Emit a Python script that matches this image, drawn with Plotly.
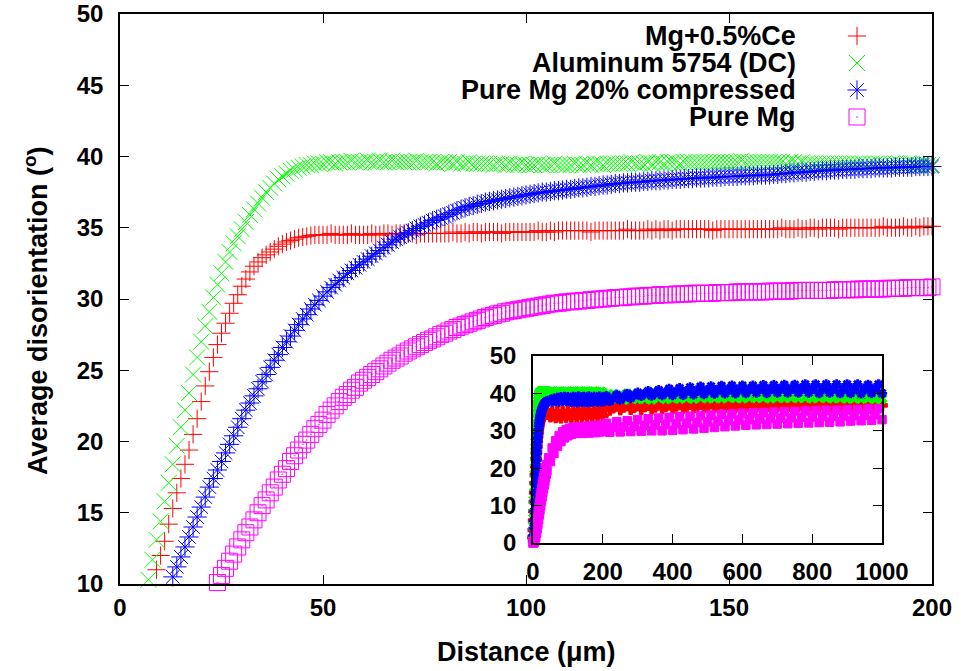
import plotly.graph_objects as go

FONT = "Liberation Sans, Arial, Helvetica, sans-serif"
RED, GREEN, BLUE, MAGENTA = "#ff0000", "#00ff00", "#0000ff", "#ff00ff"

SERIES_NAMES = ["Mg+0.5%Ce", "Aluminum 5754 (DC)", "Pure Mg 20% compressed", "Pure Mg"]

# ---------------- main panel: average disorientation vs distance (1 um steps) ----------------
CE_START_UM = 9
CE_DEG = [
    11.0, 12.0,
    13.0, 14.2, 15.3, 16.4, 17.4, 18.4, 19.4, 20.5, 21.6, 22.8,
    23.9, 24.9, 25.9, 26.8, 27.6, 28.3, 29.0, 29.7, 30.3, 30.9,
    31.4, 31.9, 32.3, 32.6, 32.9, 33.1, 33.3, 33.5, 33.7, 33.85,
    34.0, 34.1, 34.2, 34.3, 34.35, 34.4, 34.45, 34.5, 34.5, 34.5,
    34.5, 34.6, 34.5, 34.5, 34.5, 34.5, 34.6, 34.5, 34.5, 34.5,
    34.5, 34.6, 34.5, 34.5, 34.6, 34.6, 34.5, 34.6, 34.6, 34.6,
    34.6, 34.6, 34.5, 34.6, 34.6, 34.6, 34.6, 34.6, 34.6, 34.6,
    34.6, 34.7, 34.6, 34.6, 34.7, 34.6, 34.7, 34.7, 34.6, 34.7,
    34.7, 34.7, 34.7, 34.6, 34.7, 34.7, 34.7, 34.7, 34.7, 34.7,
    34.7, 34.7, 34.8, 34.7, 34.7, 34.8, 34.7, 34.8, 34.8, 34.8,
    34.8, 34.8, 34.8, 34.8, 34.8, 34.7, 34.8, 34.8, 34.8, 34.8,
    34.8, 34.8, 34.8, 34.8, 34.9, 34.8, 34.8, 34.8, 34.8, 34.9,
    34.8, 34.9, 34.8, 34.9, 34.9, 34.8, 34.9, 34.9, 34.9, 34.9,
    34.9, 34.9, 34.9, 34.9, 34.9, 34.8, 34.9, 34.9, 34.9, 34.9,
    34.9, 34.9, 34.9, 34.9, 34.9, 34.9, 34.9, 34.9, 34.9, 34.9,
    34.9, 34.9, 35.0, 34.9, 34.9, 34.9, 35.0, 34.9, 34.9, 35.0,
    35.0, 34.9, 35.0, 35.0, 35.0, 35.0, 34.9, 35.0, 35.0, 35.0,
    35.0, 35.0, 35.0, 35.0, 35.0, 35.0, 35.0, 35.1, 35.0, 35.0,
    35.0, 35.0, 35.1, 35.0, 35.0, 35.1, 35.0, 35.1, 35.1, 35.1,
]

AL_START_UM = 7
AL_DEG = [
    10.3, 11.7, 13.1, 14.4,
    15.8, 17.1, 18.4, 19.7, 21.0, 22.2, 23.4, 24.7, 25.9, 27.0,
    28.1, 29.1, 30.1, 31.0, 31.8, 32.6, 33.3, 33.9, 34.4, 34.9,
    35.4, 35.9, 36.3, 36.7, 37.1, 37.5, 37.8, 38.1, 38.4, 38.6,
    38.8, 39.0, 39.1, 39.2, 39.3, 39.4, 39.4, 39.5, 39.5, 39.5,
    39.6, 39.6, 39.5, 39.6, 39.6, 39.6, 39.7, 39.6, 39.6, 39.6,
    39.7, 39.6, 39.6, 39.7, 39.6, 39.6, 39.7, 39.6, 39.6, 39.6,
    39.6, 39.6, 39.7, 39.6, 39.6, 39.6, 39.6, 39.5, 39.6, 39.6,
    39.6, 39.5, 39.6, 39.5, 39.5, 39.6, 39.5, 39.5, 39.5, 39.5,
    39.5, 39.4, 39.5, 39.5, 39.4, 39.5, 39.4, 39.4, 39.5, 39.4,
    39.4, 39.4, 39.5, 39.4, 39.4, 39.4, 39.5, 39.4, 39.4, 39.4,
    39.4, 39.5, 39.4, 39.4, 39.5, 39.4, 39.5, 39.5, 39.4, 39.5,
    39.5, 39.5, 39.5, 39.5, 39.5, 39.6, 39.5, 39.5, 39.5, 39.6,
    39.5, 39.6, 39.6, 39.5, 39.6, 39.6, 39.6, 39.5, 39.6, 39.6,
    39.6, 39.6, 39.6, 39.6, 39.6, 39.6, 39.6, 39.6, 39.6, 39.6,
    39.6, 39.6, 39.7, 39.6, 39.6, 39.6, 39.6, 39.6, 39.6, 39.6,
    39.6, 39.6, 39.6, 39.5, 39.6, 39.6, 39.5, 39.6, 39.5, 39.5,
    39.5, 39.5, 39.5, 39.5, 39.5, 39.5, 39.5, 39.5, 39.5, 39.5,
    39.5, 39.5, 39.5, 39.4, 39.5, 39.5, 39.5, 39.5, 39.4, 39.5,
    39.5, 39.5, 39.4, 39.5, 39.5, 39.4, 39.4, 39.5, 39.4, 39.4,
]

MG20_START_UM = 13
MG20_DEG = [
    10.5, 11.2, 11.9, 12.6, 13.3, 14.0, 14.7, 15.4,
    16.1, 16.8, 17.4, 18.0, 18.6, 19.2, 19.8, 20.4, 21.0, 21.6,
    22.2, 22.7, 23.2, 23.7, 24.2, 24.7, 25.2, 25.7, 26.1, 26.6,
    27.0, 27.4, 27.8, 28.2, 28.6, 28.9, 29.3, 29.6, 29.9, 30.2,
    30.5, 30.8, 31.0, 31.3, 31.5, 31.8, 32.0, 32.2, 32.4, 32.6,
    32.8, 33.0, 33.2, 33.4, 33.6, 33.8, 34.0, 34.2, 34.35, 34.5,
    34.65, 34.8, 34.95, 35.1, 35.2, 35.35, 35.5, 35.6, 35.7, 35.8,
    35.95, 36.05, 36.2, 36.3, 36.4, 36.5, 36.55, 36.65, 36.7, 36.8,
    36.85, 36.9, 36.95, 37.0, 37.05, 37.1, 37.15, 37.2, 37.25, 37.3,
    37.35, 37.4, 37.45, 37.5, 37.5, 37.55, 37.6, 37.6, 37.65, 37.7,
    37.7, 37.75, 37.8, 37.8, 37.85, 37.9, 37.9, 37.95, 38.0, 38.0,
    38.05, 38.1, 38.1, 38.15, 38.15, 38.2, 38.2, 38.2, 38.25, 38.25,
    38.3, 38.3, 38.3, 38.35, 38.35, 38.4, 38.4, 38.4, 38.45, 38.45,
    38.45, 38.5, 38.5, 38.5, 38.5, 38.55, 38.55, 38.55, 38.6, 38.6,
    38.6, 38.6, 38.65, 38.65, 38.65, 38.65, 38.7, 38.7, 38.7, 38.7,
    38.75, 38.75, 38.8, 38.8, 38.85, 38.85, 38.9, 38.9, 38.9, 38.95,
    38.95, 39.0, 39.0, 39.0, 39.05, 39.05, 39.05, 39.1, 39.1, 39.1,
    39.1, 39.15, 39.15, 39.15, 39.15, 39.2, 39.2, 39.2, 39.2, 39.2,
    39.25, 39.25, 39.25, 39.25, 39.25, 39.3, 39.3, 39.3, 39.3, 39.3,
]

MG_START_UM = 24
MG_DEG = [
    10.1, 10.6, 11.1, 11.6, 12.1, 12.6, 13.1,
    13.6, 14.0, 14.5, 15.0, 15.5, 15.9, 16.4, 16.8, 17.3, 17.7,
    18.1, 18.6, 19.0, 19.4, 19.8, 20.1, 20.5, 20.9, 21.2, 21.5,
    21.9, 22.2, 22.5, 22.8, 23.1, 23.3, 23.6, 23.8, 24.1, 24.3,
    24.5, 24.7, 24.9, 25.1, 25.3, 25.5, 25.7, 25.85, 26.0, 26.2,
    26.35, 26.5, 26.65, 26.8, 26.95, 27.1, 27.2, 27.35, 27.5, 27.6,
    27.75, 27.85, 28.0, 28.1, 28.2, 28.3, 28.4, 28.5, 28.6, 28.7,
    28.8, 28.85, 28.95, 29.0, 29.1, 29.15, 29.2, 29.25, 29.3, 29.35,
    29.4, 29.45, 29.5, 29.55, 29.6, 29.65, 29.7, 29.7, 29.75, 29.8,
    29.8, 29.85, 29.85, 29.9, 29.9, 29.95, 29.95, 30.0, 30.0, 30.05,
    30.05, 30.1, 30.1, 30.1, 30.15, 30.15, 30.2, 30.2, 30.2, 30.25,
    30.25, 30.25, 30.3, 30.3, 30.3, 30.3, 30.35, 30.35, 30.35, 30.35,
    30.4, 30.4, 30.4, 30.4, 30.4, 30.4, 30.45, 30.45, 30.45, 30.45,
    30.45, 30.5, 30.5, 30.5, 30.5, 30.5, 30.5, 30.5, 30.5, 30.55,
    30.55, 30.55, 30.55, 30.55, 30.55, 30.6, 30.6, 30.6, 30.6, 30.6,
    30.6, 30.6, 30.6, 30.6, 30.6, 30.65, 30.65, 30.65, 30.65, 30.65,
    30.65, 30.7, 30.7, 30.7, 30.7, 30.7, 30.7, 30.7, 30.75, 30.75,
    30.75, 30.75, 30.75, 30.8, 30.8, 30.8, 30.8, 30.8, 30.8, 30.85,
]

MAIN_X_RANGE = [0, 200]
MAIN_Y_RANGE = [10, 50]
MAIN_X_TICKS = [0, 50, 100, 150, 200]
MAIN_Y_TICKS = [10, 15, 20, 25, 30, 35, 40, 45, 50]

# ---------------- inset: full 0-1000 um profile ----------------
INSET_DIST_UM = list(range(0, 41)) + list(range(45, 201, 5)) + list(range(210, 1001, 10))

INSET_CE_DEG = (
    [1.5, 3.5, 6.0, 8.5, 11.0, 13.5, 16.0, 18.3, 20.5, 22.5, 24.3,
     25.9, 27.3, 28.5, 29.5, 30.4, 31.1, 31.7, 32.2, 32.6, 33.0,
     33.3, 33.5, 33.7, 33.9, 34.0, 34.1, 34.2, 34.3, 34.3, 34.4,
     34.4, 34.5, 34.5, 34.5, 34.6, 34.6, 34.6, 34.7, 34.7, 34.7]
    + [34.5, 33.8, 35.0, 34.2, 33.6, 35.2, 34.0, 33.5,
       35.1, 34.3, 33.7, 35.3, 34.4, 33.6, 35.3, 34.5,
       33.8, 35.4, 34.6, 33.7, 35.4, 34.5, 33.8, 35.5,
       34.6, 33.9, 35.5, 34.7, 33.9, 35.6, 34.8, 34.0]
    + [36.8, 35.6, 36.2, 37.0, 35.7, 36.4, 37.1, 35.8, 36.3, 37.2,
       35.8, 36.5, 37.2, 35.9, 36.4, 37.3, 36.0, 36.6, 37.3, 36.0,
       36.7, 37.4, 36.1, 36.6, 37.4, 36.2, 36.8, 37.5, 36.2, 36.7,
       37.5, 36.3, 36.9, 37.5, 36.3, 36.8, 37.6, 36.4, 37.0, 37.6,
       36.4, 36.9, 37.6, 36.5, 37.0, 37.6, 36.5, 37.1, 37.7, 36.5,
       37.0, 37.7, 36.6, 37.1, 37.7, 36.6, 37.1, 37.7, 36.6, 37.2,
       37.7, 36.6, 37.1, 37.8, 36.6, 37.2, 37.8, 36.7, 37.2, 37.8,
       36.7, 37.2, 37.8, 36.7, 37.3, 37.8, 36.8, 37.3, 37.9, 36.8]
)

INSET_AL_DEG = (
    [1.0, 4.5, 8.0, 11.5, 15.0, 18.5, 21.5, 24.5, 27.0, 29.5, 31.5,
     33.3, 34.8, 36.0, 37.1, 38.0, 38.7, 39.3, 39.7, 40.0, 40.2,
     40.3, 40.5, 40.3, 40.6, 40.4, 40.2, 40.6, 40.4, 40.5, 40.3,
     40.6, 40.4, 40.2, 40.5, 40.4, 40.6, 40.3, 40.5, 40.4, 40.2]
    + [40.4, 39.8, 40.5, 40.0, 40.3, 39.7, 40.5, 40.1,
       40.4, 39.8, 40.5, 40.0, 40.3, 39.7, 40.5, 40.1,
       40.4, 39.8, 40.5, 40.0, 40.3, 39.8, 40.5, 40.1,
       40.4, 39.8, 40.5, 40.0, 40.3, 39.8, 40.4, 40.1]
    + [39.2, 38.4, 39.8, 38.6, 39.5, 38.3, 39.9, 38.7, 39.3, 38.5,
       39.7, 38.6, 39.4, 38.4, 40.0, 38.8, 39.2, 38.5, 39.6, 38.7,
       39.9, 38.6, 39.3, 38.8, 39.7, 38.6, 40.1, 38.9, 39.4, 38.7,
       39.8, 38.8, 39.5, 38.7, 40.0, 38.9, 39.3, 38.8, 39.9, 38.7,
       39.6, 38.9, 40.1, 38.8, 39.4, 38.9, 39.8, 38.7, 40.0, 38.9,
       39.5, 38.8, 39.9, 38.9, 39.3, 38.8, 40.1, 38.9, 39.6, 38.7,
       39.8, 38.9, 39.4, 38.8, 40.0, 38.7, 39.5, 38.8, 39.9, 38.6,
       39.3, 38.7, 39.8, 38.6, 40.1, 38.7, 39.4, 38.5, 39.7, 38.6]
)

INSET_MG20_DEG = (
    [0.5, 2.0, 4.0, 6.0, 8.5, 11.0, 13.5, 15.8, 18.0, 20.0, 22.0,
     23.8, 25.4, 26.9, 28.2, 29.4, 30.4, 31.3, 32.1, 32.8, 33.4,
     33.9, 34.4, 34.8, 35.2, 35.5, 35.8, 36.1, 36.3, 36.5, 36.7,
     36.9, 37.0, 37.2, 37.3, 37.4, 37.5, 37.6, 37.7, 37.8, 37.9]
    + [37.9, 38.3, 37.8, 38.6, 37.9, 38.8, 37.8, 39.0,
       38.0, 39.1, 37.9, 39.0, 38.2, 37.7, 39.1, 38.3,
       37.6, 39.2, 38.4, 37.7, 39.1, 38.5, 37.6, 39.2,
       38.3, 37.7, 39.1, 38.5, 37.7, 39.2, 38.4, 37.8]
    + [39.3, 38.0, 38.7, 39.6, 38.3, 39.0, 39.9, 38.8, 39.5, 40.2,
       39.3, 39.9, 40.6, 39.4, 40.1, 40.9, 39.5, 40.3, 41.2, 39.5,
       40.5, 41.4, 39.6, 40.6, 41.6, 39.7, 40.7, 41.8, 39.8, 40.8,
       41.9, 39.9, 40.9, 42.0, 40.0, 41.0, 42.1, 40.0, 41.1, 42.1,
       40.1, 41.1, 42.1, 40.2, 41.2, 42.2, 40.1, 41.2, 42.2, 40.2,
       41.3, 42.3, 40.2, 41.3, 42.3, 40.2, 41.3, 42.4, 40.2, 41.3,
       42.4, 40.1, 41.3, 42.4, 40.2, 41.3, 42.4, 40.1, 41.2, 42.4,
       40.1, 41.3, 42.4, 40.0, 41.2, 42.3, 40.1, 41.3, 42.4, 40.0]
)

INSET_MG_DEG = (
    [0.0, 0.3, 0.0, 0.6, 0.2, 1.5, 0.8, 2.6, 1.6, 3.9, 2.6,
     5.3, 3.8, 6.8, 5.0, 8.3, 6.2, 9.6, 7.5, 10.9, 8.8,
     12.2, 10.0, 13.4, 11.2, 14.5, 12.3, 15.6, 13.4, 16.6, 14.5,
     17.6, 15.5, 18.5, 16.5, 19.4, 17.5, 20.2, 18.4, 21.0, 19.3]
    + [22.8, 21.8, 25.4, 24.0, 27.3, 25.9, 28.7, 27.1,
       29.7, 28.1, 30.3, 28.7, 30.7, 29.1, 30.9, 29.3,
       31.0, 29.4, 31.1, 29.3, 31.1, 29.5, 31.2, 29.4,
       31.2, 29.6, 31.3, 29.5, 31.4, 29.7, 31.5, 29.8]
    + [32.0, 29.6, 30.9, 32.4, 29.7, 31.1, 32.7, 29.8, 31.2, 33.0,
       29.9, 31.4, 33.2, 30.0, 31.6, 33.4, 30.0, 31.7, 33.6, 30.1,
       31.9, 33.8, 30.3, 32.0, 33.9, 30.5, 32.2, 34.1, 30.7, 32.4,
       34.2, 30.9, 32.6, 34.4, 31.1, 32.8, 34.5, 31.3, 32.9, 34.7,
       31.5, 33.1, 34.8, 31.6, 33.2, 34.9, 31.7, 33.3, 35.0, 31.8,
       33.4, 35.1, 31.9, 33.5, 35.2, 32.0, 33.6, 35.3, 32.1, 33.7,
       35.4, 32.2, 33.8, 35.5, 32.3, 33.9, 35.5, 32.4, 34.0, 35.6,
       32.6, 34.1, 35.7, 32.7, 34.2, 35.8, 32.8, 34.3, 35.9, 33.0]
)

INSET_X_TICKS = [0, 200, 400, 600, 800, 1000]
INSET_Y_TICKS = [0, 10, 20, 30, 40, 50]

# main-panel marker style per series: (colour, symbol, size)
MAIN_STYLES = [
    (RED, "cross-thin-open", 13),
    (GREEN, "x-thin-open", 16),
    (BLUE, "asterisk-open", 16),
    (MAGENTA, "square-open-dot", 16),
]
# inset marker style per series: (symbol, size, outline width) -- densely packed small marks
INSET_STYLES = [
    ("cross", 9, 1.0),
    ("x", 9, 1.0),
    ("asterisk-open", 8.5, 2.8),
    ("square", 8.5, 1.0),
]

main_sets = [
    (CE_START_UM, CE_DEG),
    (AL_START_UM, AL_DEG),
    (MG20_START_UM, MG20_DEG),
    (MG_START_UM, MG_DEG),
]
inset_sets = [INSET_CE_DEG, INSET_AL_DEG, INSET_MG20_DEG, INSET_MG_DEG]
for ys in inset_sets:
    assert len(ys) == len(INSET_DIST_UM)


def main_points(start, ys):
    xs = list(range(start, start + len(ys)))
    keep = [(x, y) for x, y in zip(xs, ys)
            if MAIN_X_RANGE[0] <= x <= MAIN_X_RANGE[1]
            and MAIN_Y_RANGE[0] <= y <= MAIN_Y_RANGE[1]]
    return [p[0] for p in keep], [p[1] for p in keep]


fig = go.Figure()

for name, (start, ys), (col, sym, size) in zip(SERIES_NAMES, main_sets, MAIN_STYLES):
    xs, yv = main_points(start, ys)
    fig.add_trace(go.Scatter(
        x=xs, y=yv, mode="markers", name=name, showlegend=False,
        cliponaxis=False,
        marker=dict(symbol=sym, size=size, color=col, line=dict(color=col, width=1)),
        xaxis="x", yaxis="y",
    ))

for name, ys, (col, _, _), (isym, isize, iw) in zip(SERIES_NAMES, inset_sets, MAIN_STYLES, INSET_STYLES):
    fig.add_trace(go.Scatter(
        x=INSET_DIST_UM, y=ys, mode="markers", name=name, showlegend=False,
        cliponaxis=False,
        marker=dict(symbol=isym, size=isize, color=col, line=dict(color=col, width=iw)),
        xaxis="x2", yaxis="y2",
    ))

# key: right-aligned labels with a sample symbol to their right (pixel-space overlay axes)
KEY_X_PX = 857
KEY_TEXT_RIGHT_PX = 798
KEY_ROWS_PX = [36, 63, 90, 117]
for name, ypx, (col, sym, size) in zip(SERIES_NAMES, KEY_ROWS_PX, MAIN_STYLES):
    fig.add_trace(go.Scatter(
        x=[KEY_X_PX], y=[ypx], mode="markers", showlegend=False, cliponaxis=False,
        marker=dict(symbol=sym, size=size, color=col, line=dict(color=col, width=1)),
        xaxis="x3", yaxis="y3", hoverinfo="skip",
    ))

TICK_FONT = dict(family=FONT, size=24, color="black", weight="bold")
TEXT_FONT = dict(family=FONT, size=27, color="black", weight="bold")

axis_common = dict(
    showline=True, linecolor="black", linewidth=1.5, mirror="ticks",
    ticks="inside", ticklen=9, tickwidth=1.2, tickcolor="black",
    showgrid=False, zeroline=False, tickfont=TICK_FONT, automargin=False,
)

PLOT_L, PLOT_R, PLOT_T, PLOT_B = 120, 932, 14, 584
W, H = 961, 671
INSET_L, INSET_R, INSET_T, INSET_B = 533, 882, 356, 543


def px_to_paper_x(px):
    return (px - PLOT_L) / (PLOT_R - PLOT_L)


def px_to_paper_y(py):
    return (PLOT_B - py) / (PLOT_B - PLOT_T)


annotations = [
    dict(x=px_to_paper_x(526), y=px_to_paper_y(652), xref="paper", yref="paper",
         text="<b>Distance (μm)</b>", showarrow=False, xanchor="center", yanchor="middle",
         font=TEXT_FONT),
    dict(x=px_to_paper_x(36), y=px_to_paper_y(311), xref="paper", yref="paper",
         text="<b>Average disorientation (<sup>o</sup>)</b>", showarrow=False,
         xanchor="center", yanchor="middle", textangle=-90, font=TEXT_FONT),
]
for name, ypx in zip(SERIES_NAMES, KEY_ROWS_PX):
    annotations.append(dict(
        x=px_to_paper_x(KEY_TEXT_RIGHT_PX), y=px_to_paper_y(ypx), xref="paper", yref="paper",
        text="<b>" + name + "</b>", showarrow=False,
        xanchor="right", yanchor="middle", font=TEXT_FONT,
    ))

fig.update_layout(
    width=W, height=H,
    margin=dict(l=PLOT_L, r=W - PLOT_R, t=PLOT_T, b=H - PLOT_B, pad=0, autoexpand=False),
    paper_bgcolor="white", plot_bgcolor="rgba(0,0,0,0)",
    showlegend=False,
    xaxis=dict(range=MAIN_X_RANGE, tickvals=MAIN_X_TICKS, domain=[0, 1],
               ticklabelstandoff=1, **axis_common),
    yaxis=dict(range=MAIN_Y_RANGE, tickvals=MAIN_Y_TICKS, domain=[0, 1],
               ticklabelstandoff=10, **axis_common),
    xaxis2=dict(range=[0, 1000], tickvals=INSET_X_TICKS,
                domain=[px_to_paper_x(INSET_L), px_to_paper_x(INSET_R)],
                anchor="y2", ticklabelstandoff=6, **axis_common),
    yaxis2=dict(range=[0, 50], tickvals=INSET_Y_TICKS,
                domain=[px_to_paper_y(INSET_B), px_to_paper_y(INSET_T)],
                anchor="x2", ticklabelstandoff=10, **axis_common),
    xaxis3=dict(range=[PLOT_L, PLOT_R], domain=[0, 1], anchor="y3", overlaying="x",
                visible=False, fixedrange=True, automargin=False),
    yaxis3=dict(range=[PLOT_B, PLOT_T], domain=[0, 1], anchor="x3", overlaying="y",
                visible=False, fixedrange=True, automargin=False),
    annotations=annotations,
)

fig.write_html("out.html")
